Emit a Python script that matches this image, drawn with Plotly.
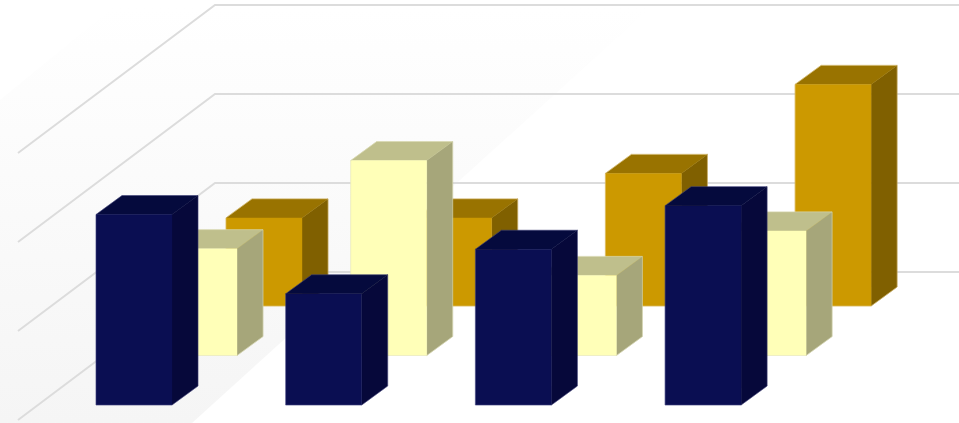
import plotly.graph_objects as go

# Data
categories = [0, 1, 2, 3]
navy_values = [21.4, 12.5, 17.5, 22.4]
yellow_values = [12, 21.9, 9, 14]
gold_values = [9.9, 9.9, 14.9, 24.9]
grid_values = [0, 10, 20, 30]

# Styling: (front, top, side, edge) per series
navy_style = ("#0a0e52", "#050a3d", "#06083a", "rgba(110,112,170,0.55)")
yellow_style = ("#ffffb8", "#bfbf8c", "#a6a67a", "rgba(225,225,190,0.9)")
gold_style = ("#cc9900", "#997300", "#806000", "rgba(225,200,130,0.9)")

PX_X = 189.7   # pixels per category
PX_Y = 8.9     # pixels per value unit
BAR_W = 76 / PX_X
DEPTH_X = 26 / PX_X
DEPTH_Y = 19 / PX_Y
ROW_X = 65 / PX_X
ROW_Y = 49.5 / PX_Y
FLOOR_FRONT_Y = -15 / PX_Y
FLOOR_BACK_Y = 133 / PX_Y
WALL_FRONT_X = (18 - 134) / PX_X
WALL_BACK_X = (215 - 134) / PX_X
X_RANGE = [-134 / PX_X, (959 - 134) / PX_X]
Y_RANGE = [-18 / PX_Y, 405 / PX_Y]


def px(xp, yp):
    return (xp - 134) / PX_X, (405 - yp) / PX_Y


fig = go.Figure()

# Soft floor/wall backdrop with a vertical gradient
back_pts = [px(0, 100), px(112, 8), px(650, 8), px(192, 423), px(0, 423), px(0, 100)]
fig.add_trace(go.Scatter(
    x=[p[0] for p in back_pts], y=[p[1] for p in back_pts],
    mode="none", fill="toself",
    fillgradient=dict(type="vertical", colorscale=[[0, "#f5f5f5"], [1, "#ffffff"]]),
    hoverinfo="skip", showlegend=False,
))

# Grid lines: along the side wall, then across the back wall
for v in grid_values:
    fig.add_trace(go.Scatter(
        x=[WALL_FRONT_X, WALL_BACK_X, X_RANGE[1]],
        y=[FLOOR_FRONT_Y + v, FLOOR_BACK_Y + v, FLOOR_BACK_Y + v],
        mode="lines", line=dict(color="#dcdcdc", width=2),
        hoverinfo="skip", showlegend=False,
    ))


def face(xs, ys, color, name):
    fig.add_trace(go.Scatter(
        x=xs + xs[:1], y=ys + ys[:1], mode="lines", fill="toself",
        fillcolor=color, line=dict(color=color, width=0.4),
        name=name, showlegend=False,
    ))


def bars(values, row, style, name):
    x_off = row * ROW_X - BAR_W / 2
    y_off = row * ROW_Y
    front, top, side, edge = style
    for c, v in zip(categories, values):
        x0 = c + x_off
        x1 = x0 + BAR_W
        y0 = y_off
        y1 = y_off + v
        face([x1, x1 + DEPTH_X, x1 + DEPTH_X, x1],
             [y0, y0 + DEPTH_Y, y1 + DEPTH_Y, y1], side, name)
        face([x0, x0 + DEPTH_X, x1 + DEPTH_X, x1],
             [y1, y1 + DEPTH_Y, y1 + DEPTH_Y, y1], top, name)
        face([x0, x1, x1, x0], [y0, y0, y1, y1], front, name)
        # faint outline around the outside of the box only
        fig.add_trace(go.Scatter(
            x=[x0, x1, x1 + DEPTH_X, x1 + DEPTH_X, x0 + DEPTH_X, x0, x0],
            y=[y0, y0, y0 + DEPTH_Y, y1 + DEPTH_Y, y1 + DEPTH_Y, y1, y0],
            mode="lines", line=dict(color=edge, width=0.6),
            hoverinfo="skip", showlegend=False,
        ))


bars(gold_values, 2, gold_style, "gold")
bars(yellow_values, 1, yellow_style, "yellow")
bars(navy_values, 0, navy_style, "navy")

fig.update_layout(
    width=959, height=423,
    margin=dict(l=0, r=0, t=0, b=0),
    paper_bgcolor="white", plot_bgcolor="white",
    showlegend=False,
    xaxis=dict(range=X_RANGE, visible=False, fixedrange=True),
    yaxis=dict(range=Y_RANGE, visible=False, fixedrange=True),
)
fig.write_html(
    "out.html",
    config={"displayModeBar": False},
    post_script="document.body.style.margin='0';document.documentElement.style.overflow='hidden';",
)
